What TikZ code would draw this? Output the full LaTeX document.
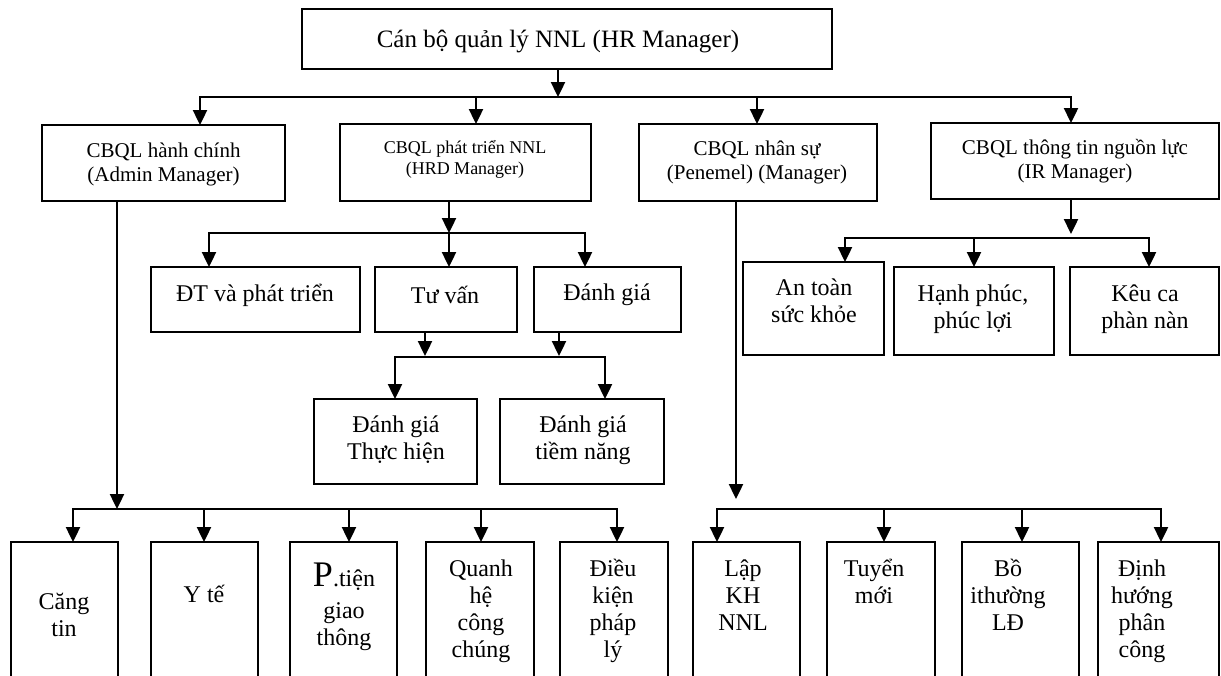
\documentclass[tikz,border=0pt]{standalone}
\usepackage{fontspec}
\setmainfont{Liberation Serif}
\usetikzlibrary{arrows.meta}

\begin{document}
\begin{tikzpicture}[x=1pt,y=-1pt,
  box/.style={draw, line width=1.6pt, rectangle, inner sep=0pt, outer sep=0pt},
  txt/.style={align=center, inner sep=0pt, font=\fontsize{24}{27}\selectfont},
  mid/.style={txt, font=\fontsize{21}{24}\selectfont},
  small/.style={txt, font=\fontsize{18}{21}\selectfont},
  big/.style={txt, font=\fontsize{25}{28}\selectfont},
  conn/.style={line width=2.4pt, line join=miter},
  arr/.style={conn, -{Triangle[length=15pt,width=14pt]}},
]
\useasboundingbox (0,0) rectangle (1221,675);
\clip (0,0) rectangle (1221,675);

% ---------- boxes ----------
\node[box, minimum width=530pt, minimum height=60pt] (hr)  at (567,39) {};
\node[box, minimum width=243pt, minimum height=76pt] (adm) at (163.5,163) {};
\node[box, minimum width=251pt, minimum height=77pt] (hrd) at (465.5,162.5) {};
\node[box, minimum width=238pt, minimum height=77pt] (per) at (758,162.5) {};
\node[box, minimum width=288pt, minimum height=76pt] (irm) at (1075,161) {};

\node[box, minimum width=209pt, minimum height=65pt] (dt) at (255.5,299.5) {};
\node[box, minimum width=142pt, minimum height=65pt] (tv) at (446,299.5) {};
\node[box, minimum width=147pt, minimum height=65pt] (dg) at (607.5,299.5) {};

\node[box, minimum width=141pt, minimum height=93pt] (at) at (813.5,308.5) {};
\node[box, minimum width=160pt, minimum height=88pt] (hp) at (974,311) {};
\node[box, minimum width=149pt, minimum height=88pt] (kc) at (1144.5,311) {};

\node[box, minimum width=163pt, minimum height=85pt] (th) at (395.5,441.5) {};
\node[box, minimum width=164pt, minimum height=85pt] (tn) at (582,441.5) {};

\node[box, minimum width=107pt, minimum height=178pt] (ct) at (64.5,631) {};
\node[box, minimum width=107pt, minimum height=178pt] (yt) at (204.5,631) {};
\node[box, minimum width=107pt, minimum height=178pt] (pt) at (343.5,631) {};
\node[box, minimum width=108pt, minimum height=178pt] (qh) at (480,631) {};
\node[box, minimum width=108pt, minimum height=178pt] (dk) at (614,631) {};
\node[box, minimum width=107pt, minimum height=178pt] (lk) at (746.5,631) {};
\node[box, minimum width=108pt, minimum height=178pt] (tm) at (881,631) {};
\node[box, minimum width=117pt, minimum height=178pt] (bt) at (1020.5,631) {};
\node[box, minimum width=121pt, minimum height=178pt] (dh) at (1158.5,631) {};

% ---------- labels ----------
\node[big]   (hr-t)  at (558,41)    {Cán bộ quản lý NNL (HR Manager)};
\node[mid]   (adm-t) at (163.5,164) {CBQL hành chính\\(Admin Manager)};
\node[small] (hrd-t) at (465,159.5) {CBQL phát triển NNL\\(HRD Manager)};
\node[mid]   (per-t) at (757,162)   {CBQL nhân sự\\(Penemel) (Manager)};
\node[mid]   (irm-t) at (1075,161)  {CBQL thông tin nguồn lực\\(IR Manager)};

\node[txt] (dt-t) at (255,295) {ĐT và phát triển};
\node[txt] (tv-t) at (445,295) {Tư vấn};
\node[txt] (dg-t) at (607,295) {Đánh giá};

\node[txt] (at-t) at (814,301)  {An toàn\\sức khỏe};
\node[txt] (hp-t) at (973,309)  {Hạnh phúc,\\phúc lợi};
\node[txt] (kc-t) at (1145,309) {Kêu ca\\phàn nàn};

\node[txt] (th-t) at (396,440) {Đánh giá\\Thực hiện};
\node[txt] (tn-t) at (583,440) {Đánh giá\\tiềm năng};

\node[txt] (ct-t) at (64,615)   {Căng\\tin};
\node[txt] (yt-t) at (204,594)  {Y tế};
\node[txt] (pt-t) at (344,607)  {{\fontsize{36}{36}\selectfont P}.tiện\\[5pt]giao\\thông};
\node[txt] (qh-t) at (481,611)  {Quanh\\hệ\\công\\chúng};
\node[txt] (dk-t) at (613,611)  {Điều\\kiện\\pháp\\lý};
\node[txt] (lk-t) at (743,595)  {Lập\\KH\\NNL};
\node[txt] (tm-t) at (874,581)  {Tuyển\\mới};
\node[txt] (bt-t) at (1008,595) {Bồ\\ithường\\LĐ};
\node[txt] (dh-t) at (1142,611) {Định\\hướng\\phân\\công};

% ---------- bus below the HR manager ----------
\coordinate (b1)  at (558,97);
\coordinate (b1a) at (200,97);
\coordinate (b1b) at (476,97);
\coordinate (b1c) at (757,97);
\coordinate (b1d) at (1071,97);
\draw[arr] (hr.south -| b1) -- (b1);
\draw[arr] (b1) -- (b1a) -- (b1a |- adm.north);
\draw[arr] (b1) -- (b1d) -- (b1d |- irm.north);
\draw[arr] (b1b) -- (b1b |- hrd.north);
\draw[arr] (b1c) -- (b1c |- per.north);

% ---------- HRD branch ----------
\coordinate (b2)  at (449,233);
\coordinate (b2a) at (209,233);
\coordinate (b2c) at (585,233);
\draw[arr] (hrd.south -| b2) -- (b2);
\draw[arr] (b2) -- (b2a) -- (b2a |- dt.north);
\draw[arr] (b2) -- (b2c) -- (b2c |- dg.north);
\draw[arr] (b2) -- (b2 |- tv.north);

% ---------- evaluation branch ----------
\coordinate (f3a) at (425,356);
\coordinate (f3b) at (559,356);
\coordinate (b3m) at (500,357);
\coordinate (b3a) at (395,357);
\coordinate (b3b) at (605,357);
\draw[arr] (tv.south -| f3a) -- (f3a);
\draw[arr] (dg.south -| f3b) -- (f3b);
\draw[arr] (b3m) -- (b3a) -- (b3a |- th.north);
\draw[arr] (b3m) -- (b3b) -- (b3b |- tn.north);

% ---------- IR branch ----------
\coordinate (f4)  at (1071,234);
\coordinate (b4m) at (1071,238);
\coordinate (b4a) at (845,238);
\coordinate (b4b) at (974,238);
\coordinate (b4c) at (1149,238);
\draw[arr] (irm.south -| f4) -- (f4);
\draw[arr] (b4m) -- (b4a) -- (b4a |- at.north);
\draw[arr] (b4m) -- (b4c) -- (b4c |- kc.north);
\draw[arr] (b4b) -- (b4b |- hp.north);

% ---------- admin branch ----------
\coordinate (f5)  at (117,509);
\coordinate (b5a) at (73,509);
\coordinate (b5b) at (204,509);
\coordinate (b5c) at (349,509);
\coordinate (b5d) at (481,509);
\coordinate (b5e) at (617,509);
\draw[arr] (adm.south -| f5) -- (f5);
\draw[arr] (f5) -- (b5a) -- (b5a |- ct.north);
\draw[arr] (f5) -- (b5e) -- (b5e |- dk.north);
\draw[arr] (b5b) -- (b5b |- yt.north);
\draw[arr] (b5c) -- (b5c |- pt.north);
\draw[arr] (b5d) -- (b5d |- qh.north);

% ---------- personnel branch ----------
\coordinate (f6)  at (736,499);
\coordinate (b6a) at (717,509);
\coordinate (b6b) at (884,509);
\coordinate (b6c) at (1022,509);
\coordinate (b6d) at (1161,509);
\draw[arr] (per.south -| f6) -- (f6);
\draw[arr] (b6b) -- (b6a) -- (b6a |- lk.north);
\draw[arr] (b6b) -- (b6d) -- (b6d |- dh.north);
\draw[arr] (b6b) -- (b6b |- tm.north);
\draw[arr] (b6c) -- (b6c |- bt.north);
\end{tikzpicture}
\end{document}
